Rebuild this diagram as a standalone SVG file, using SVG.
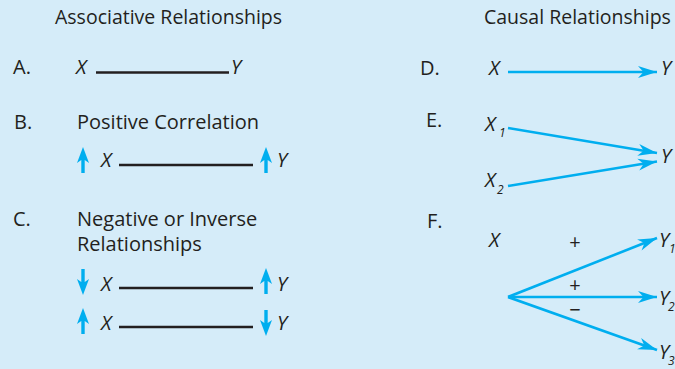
<svg xmlns="http://www.w3.org/2000/svg" width="675" height="369" viewBox="0 0 675 369">
<style>
text{font-family:"Open Sans","Liberation Sans",sans-serif;font-size:20px;fill:#231f20}
.t{font-size:19.5px}
.v{font-style:italic}
.s{font-style:italic;font-size:12px}
.sg{font-size:20px}
.blk{stroke:#231f20;stroke-width:2.5;fill:none}
.cz{stroke:#00aeef;stroke-width:2.6;fill:none;marker-end:url(#ah)}
.ind{fill:#00aeef}
</style>
<defs>
<marker id="ah" viewBox="-20 -7 21 14" refX="0" refY="0" markerWidth="21" markerHeight="14" markerUnits="userSpaceOnUse" orient="auto">
<path d="M0,0 L-19,-6 L-13.5,0 L-19,6 Z" fill="#00aeef"/>
</marker>
<path id="up" d="M0,0 L6,16 L1.7,13 L1.7,26 L-1.7,26 L-1.7,13 L-6,16 Z"/>
</defs>
<rect width="675" height="369" fill="#d5ecf9"/>

<g id="titles">
<text class="t" x="55" y="24">Associative Relationships</text>
<text class="t" x="484" y="24">Causal Relationships</text>
</g>

<g id="labels">
<text x="13" y="74">A.</text>
<text x="14" y="129">B.</text>
<text x="77" y="129">Positive Correlation</text>
<text x="13" y="226">C.</text>
<text x="77" y="226">Negative or Inverse</text>
<text x="77" y="251">Relationships</text>
<text x="420" y="75">D.</text>
<text x="426" y="127">E.</text>
<text x="427" y="228">F.</text>
</g>

<g id="connectors">
<line class="blk" x1="96" y1="72.5" x2="229" y2="72.5"/>
<line class="blk" x1="119" y1="165" x2="253" y2="165"/>
<line class="blk" x1="119" y1="288" x2="253" y2="288"/>
<line class="blk" x1="119" y1="327" x2="253" y2="327"/>
<line class="cz" x1="508" y1="72" x2="657" y2="72"/>
<line class="cz" x1="508" y1="128" x2="657" y2="153"/>
<line class="cz" x1="508" y1="186" x2="657" y2="161.5"/>
<line class="cz" x1="508" y1="297" x2="657" y2="238"/>
<line class="cz" x1="508" y1="297" x2="657" y2="297"/>
<line class="cz" x1="508" y1="297" x2="657" y2="350"/>
</g>

<g id="A-X"><text class="v" x="76" y="74">X</text></g>
<g id="A-Y"><text class="v" x="231" y="74">Y</text></g>

<g id="B-X"><use href="#up" class="ind" x="83" y="147"/><text class="v" x="101" y="167">X</text></g>
<g id="B-Y"><use href="#up" class="ind" x="266" y="147"/><text class="v" x="277" y="167">Y</text></g>

<g id="C1-X"><use href="#up" class="ind" transform="translate(83,295) scale(1,-1)"/><text class="v" x="101" y="291">X</text></g>
<g id="C1-Y"><use href="#up" class="ind" x="266" y="268"/><text class="v" x="277" y="291">Y</text></g>
<g id="C2-X"><use href="#up" class="ind" x="83" y="308"/><text class="v" x="101" y="330">X</text></g>
<g id="C2-Y"><use href="#up" class="ind" transform="translate(266,336) scale(1,-1)"/><text class="v" x="277" y="330">Y</text></g>

<g id="D-X"><text class="v" x="489" y="75">X</text></g>
<g id="D-Y"><text class="v" x="661" y="75">Y</text></g>

<g id="E-X1"><text class="v" x="485" y="131">X</text><text class="s" x="499" y="137">1</text></g>
<g id="E-X2"><text class="v" x="485" y="187">X</text><text class="s" x="497" y="194">2</text></g>
<g id="E-Y"><text class="v" x="661" y="163">Y</text></g>

<g id="F-X"><text class="v" x="489" y="247">X</text></g>
<g id="F-Y1"><text class="v" x="659" y="247">Y</text><text class="s" x="669" y="253">1</text></g>
<g id="F-Y2"><text class="v" x="659" y="305">Y</text><text class="s" x="668" y="311">2</text></g>
<g id="F-Y3"><text class="v" x="659" y="359">Y</text><text class="s" x="668" y="365">3</text></g>
<g id="F-signs">
<text class="sg" x="575" y="249" text-anchor="middle">+</text>
<text class="sg" x="575" y="292" text-anchor="middle">+</text>
<text class="sg" x="575" y="317" text-anchor="middle">−</text>
</g>
</svg>
